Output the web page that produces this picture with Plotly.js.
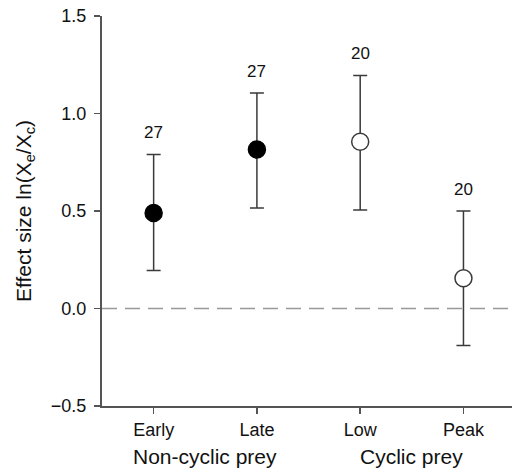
<!DOCTYPE html>
<html><head><meta charset="utf-8">
<script src="https://cdn.plot.ly/plotly-3.0.1.min.js"></script>
<style>html,body{margin:0;padding:0;background:#fff;}#chart{width:512px;height:472px;}</style>
</head><body><div id="chart"></div>
<script>
const categories = ["Early", "Late", "Low", "Peak"];
const groupLabels = ["Non-cyclic prey", "Cyclic prey"];
const yTitle = "Effect size ln(X<sub>e</sub>/X<sub>c</sub>)";
const means = [0.49, 0.815, 0.855, 0.155];
const upper = [0.79, 1.105, 1.195, 0.50];
const lower = [0.195, 0.515, 0.505, -0.19];
const nLabels = ["27", "27", "20", "20"];
const filled = [true, true, false, false];

const xi = categories.map((c, i) => i);
const font = "Liberation Sans, Arial, sans-serif";

const traces = [0, 1].map(g => {
  const idx = xi.filter(i => filled[i] === (g === 0));
  return {
    type: "scatter", mode: "markers",
    x: idx, y: idx.map(i => means[i]),
    error_y: {type: "data", symmetric: false,
      array: idx.map(i => upper[i] - means[i]),
      arrayminus: idx.map(i => means[i] - lower[i]),
      color: "#3a3a3a", thickness: 1.5, width: 7},
    marker: {size: 17, color: g === 0 ? "#000" : "#fff",
      line: {color: g === 0 ? "#000" : "#3a3a3a", width: 1.5}},
    cliponaxis: false, hoverinfo: "skip"
  };
});

const annotations = xi.map(i => ({
  x: i, y: upper[i], xref: "x", yref: "y", text: nLabels[i],
  showarrow: false, yshift: 22, font: {family: font, size: 17, color: "#111"}
}));
groupLabels.forEach((t, g) => {
  annotations.push({x: g * 2 + 0.5, y: 0, xref: "x", yref: "paper", yanchor: "middle",
    yshift: -50, text: t, showarrow: false, font: {family: font, size: 21, color: "#111"}});
});
annotations.push({x: 0, y: 0.5, xref: "paper", yref: "paper", xanchor: "center", yanchor: "middle",
  xshift: -77, textangle: -90, text: yTitle, showarrow: false,
  font: {family: font, size: 21, color: "#111"}});

const layout = {
  width: 512, height: 472,
  margin: {l: 102, r: 0, t: 16, b: 66},
  paper_bgcolor: "#fff", plot_bgcolor: "#fff",
  showlegend: false,
  font: {family: font, color: "#111"},
  xaxis: {range: [-0.5, 3.47], tickvals: xi, ticktext: categories,
    showgrid: false, zeroline: false, showline: true, linecolor: "#555", linewidth: 2,
    ticks: "outside", ticklen: 6, tickwidth: 1.5, tickcolor: "#555",
    tickfont: {family: font, size: 18, color: "#111"}, ticklabelstandoff: 0},
  yaxis: {range: [-0.5, 1.5], tickvals: [-0.5, 0, 0.5, 1.0, 1.5],
    ticktext: ["\u22120.5", "0.0", "0.5", "1.0", "1.5"],
    showgrid: false, zeroline: false, showline: true, linecolor: "#555", linewidth: 2,
    ticks: "outside", ticklen: 6, tickwidth: 1.5, tickcolor: "#555",
    tickfont: {family: font, size: 18, color: "#111"}, ticklabelstandoff: 4},
  shapes: [{type: "line", xref: "paper", yref: "y", x0: 0, x1: 1, y0: 0, y1: 0,
    line: {color: "#999", width: 1.5, dash: "15px,8px"}, layer: "below"}],
  annotations: annotations
};

Plotly.newPlot("chart", traces, layout, {staticPlot: true, displayModeBar: false});
</script></body></html>
